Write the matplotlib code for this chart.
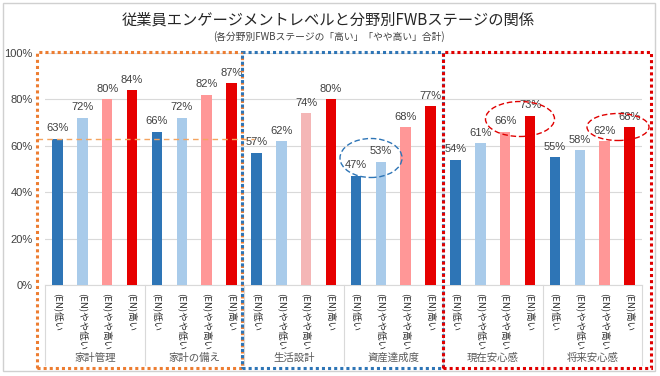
import matplotlib
matplotlib.use("Agg")
import matplotlib.pyplot as plt
from matplotlib.patches import Rectangle, Ellipse
import numpy as np

plt.rcParams['font.family'] = ['Noto Sans CJK JP', 'DejaVu Sans']

title = "従業員エンゲージメントレベルと分野別FWBステージの関係"
subtitle = "(各分野別FWBステージの「高い」「やや高い」合計)"
groups = ["家計管理", "家計の備え", "生活設計", "資産達成度", "現在安心感", "将来安心感"]
levels = ["(EN)低い", "(EN)やや低い", "(EN)やや高い", "(EN)高い"]
values = [
    [63, 72, 80, 84],
    [66, 72, 82, 87],
    [57, 62, 74, 80],
    [47, 53, 68, 77],
    [54, 61, 66, 73],
    [55, 58, 62, 68],
]
yticks = [0, 20, 40, 60, 80, 100]
ref_line = 63

W, H = 660, 376
fig = plt.figure(figsize=(W / 100, H / 100), dpi=100)
fig.patch.set_facecolor('white')

def fx(px):
    return px / W

def fy(py):
    return 1 - py / H

ax_l, ax_r, ax_t, ax_b = 45, 642, 53, 285
ax = fig.add_axes([fx(ax_l), fy(ax_b), fx(ax_r) - fx(ax_l), fy(ax_t) - fy(ax_b)])

colors = ["#2E75B6", "#A9CBEA", "#FF9797", "#E60000"]
n = len(levels)
for gi, vals in enumerate(values):
    for li, v in enumerate(vals):
        x = gi * n + li
        c = colors[li]
        if gi == 2 and li == 2:
            c = "#F4B6B6"
        ax.bar(x, v, width=0.42, color=c, zorder=3)
        ax.annotate(f"{v}%", (x, v), xytext=(0, 4), textcoords='offset points',
                    ha='center', va='bottom', fontsize=8, color='#404040',
                    family=['Liberation Sans'])

ax.set_xlim(-0.5, len(groups) * n - 0.5)
ax.set_ylim(0, 100)
ax.set_yticks(yticks)
ax.set_yticklabels([f"{t}%" for t in yticks], fontsize=8, color='#404040',
                   family=['Liberation Sans'])
ax.yaxis.grid(True, color='#D9D9D9', linewidth=0.8, zorder=0)
ax.tick_params(axis='y', length=0, pad=9)
for s in ['top', 'right', 'left']:
    ax.spines[s].set_visible(False)
ax.spines['bottom'].set_color('#D9D9D9')

xt = np.arange(len(groups) * n)
ax.set_xticks(xt)
ax.set_xticklabels(levels * len(groups), rotation=-90, fontsize=6.8, color='#262626',
                   va='top', ha='center')
ax.tick_params(axis='x', length=0, pad=6)

# group labels and separators
for gi, g in enumerate(groups):
    cx = gi * n + (n - 1) / 2
    ax.text(cx, -0.315, g, transform=ax.get_xaxis_transform(), ha='center', va='center',
            fontsize=7.5, color='#595959')
for b in range(len(groups) + 1):
    xb = b * n - 0.5
    ax.plot([xb, xb], [0, -0.345], transform=ax.get_xaxis_transform(), color='#D9D9D9',
            linewidth=0.8, clip_on=False)

# reference dashed line
ax.plot([-0.82, 7.9], [ref_line, ref_line], color='#F4A460', linestyle='--',
        linewidth=1.0, dashes=(4, 3), clip_on=False, zorder=4)

# dotted boxes (figure coordinates)
boxes = [(37, 242, "#ED7D31"), (242, 443, "#2E75B6"), (443, 651, "#E00000")]
for x0, x1, c in boxes:
    r = Rectangle((fx(x0), fy(368)), fx(x1) - fx(x0), fy(52) - fy(368),
                  transform=fig.transFigure, fill=False, edgecolor=c,
                  linestyle=(0, (1, 1)), linewidth=2.2, zorder=10)
    fig.add_artist(r)

# dashed ellipses
ells = [(371, 158, 62, 39, "#2E75B6"), (520, 119, 69, 35, "#E00000"), (618, 127, 62, 27, "#E00000")]
for cx, cy, w, h, c in ells:
    e = Ellipse((fx(cx), fy(cy)), fx(w), h / H, transform=fig.transFigure, fill=False,
                edgecolor=c, linestyle=(0, (4, 2)), linewidth=1.0, zorder=10)
    fig.add_artist(e)

# outer frame
fig.add_artist(Rectangle((fx(3), fy(371)), fx(652), 368 / H, transform=fig.transFigure,
                         fill=False, edgecolor='#D0D0D0', linewidth=1.0))

fig.text(0.497, fy(20), title, ha='center', va='center', fontsize=11,
         color='#262626')
fig.text(0.499, fy(37), subtitle, ha='center', va='center', fontsize=7.0, color='#404040')

fig.savefig("out.png", dpi=100)
